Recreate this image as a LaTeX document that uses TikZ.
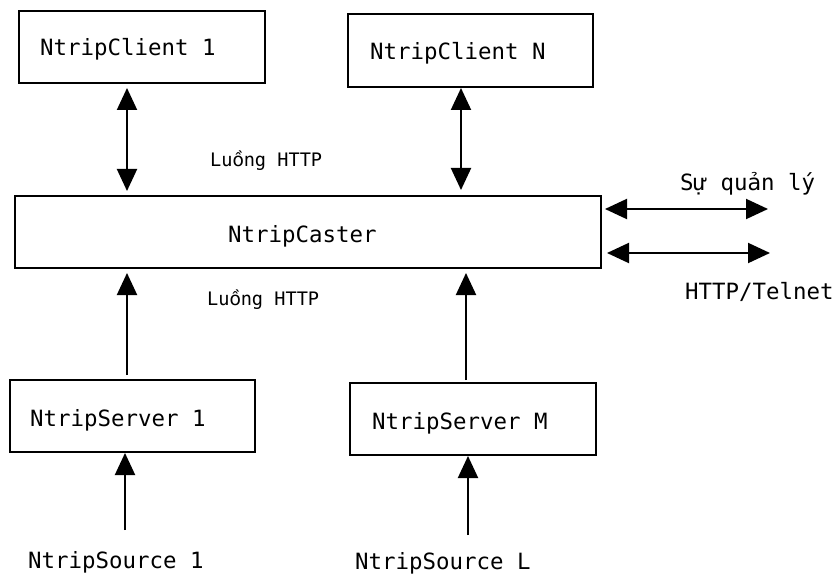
\documentclass[tikz,border=0pt]{standalone}
\usepackage{fontspec}
\setmonofont{DejaVu Sans Mono}
\newfontfamily\vnfont{DejaVu Sans}
\newcommand{\vn}[1]{\makebox[0.602em][c]{\vnfont #1}}
\usetikzlibrary{arrows.meta}
\begin{document}
\begin{tikzpicture}[x=1pt,y=-1pt,
  box/.style={draw,line width=2pt,inner sep=0pt},
  lbl/.style={font=\ttfamily\fontsize{22.4}{26}\selectfont,inner sep=0pt,anchor=base west},
  small/.style={font=\ttfamily\fontsize{18.6}{22}\selectfont,inner sep=0pt,anchor=base west},
  conn/.style={line width=2pt,-{Triangle[width=20pt,length=22pt]}},
  bconn/.style={line width=2pt,{Triangle[width=20pt,length=22pt]}-{Triangle[width=20pt,length=22pt]}}]
\useasboundingbox (0,0) rectangle (833,575);
% boxes
\node[box,minimum width=246pt,minimum height=72pt] (c1) at (142,47) {};
\node[box,minimum width=245pt,minimum height=73pt] (cN) at (470.5,50.5) {};
\node[box,minimum width=586pt,minimum height=72pt] (cast) at (308,232) {};
\node[box,minimum width=245pt,minimum height=72pt] (s1) at (132.5,416) {};
\node[box,minimum width=246pt,minimum height=72pt] (sM) at (473,419) {};
% texts
\node[lbl] (tc1) at (40,56) {NtripClient 1};
\node[lbl] (tcN) at (370,60) {NtripClient N};
\node[lbl] (tcast) at (228,242) {NtripCaster};
\node[lbl] (ts1) at (30,426) {NtripServer 1};
\node[lbl] (tsM) at (372,429) {NtripServer M};
\node[lbl] (src1) at (28,568) {NtripSource 1};
\node[lbl] (srcL) at (355,569) {NtripSource L};
\node[small] (h1) at (210,167) {Lu\vn{ồ}ng HTTP};
\node[small] (h2) at (207,305) {Lu\vn{ồ}ng HTTP};
\node[lbl] (mgmt) at (680,190) {Sự qu\vn{ả}n lý};
\node[lbl] (tel) at (685,299) {HTTP/Telnet};
% coordinates
\coordinate (a1t) at (127,88);  \coordinate (a1b) at (127,191);
\coordinate (aNt) at (461,88);  \coordinate (aNb) at (461,190);
\coordinate (r1l) at (605,209); \coordinate (r1r) at (768,209);
\coordinate (r2l) at (607,253); \coordinate (r2r) at (770,253);
\coordinate (u1b) at (127,375); \coordinate (u1t) at (127,273);
\coordinate (uMb) at (466,380); \coordinate (uMt) at (466,273);
\coordinate (v1b) at (125,530); \coordinate (v1t) at (125,453);
\coordinate (vMb) at (468,535); \coordinate (vMt) at (468,456);
% connectors
\draw[bconn] (a1t) -- (a1b);
\draw[bconn] (aNt) -- (aNb);
\draw[bconn] (r1l) -- (r1r);
\draw[bconn] (r2l) -- (r2r);
\draw[conn] (u1b) -- (u1t);
\draw[conn] (uMb) -- (uMt);
\draw[conn] (v1b) -- (v1t);
\draw[conn] (vMb) -- (vMt);
\end{tikzpicture}
\end{document}
